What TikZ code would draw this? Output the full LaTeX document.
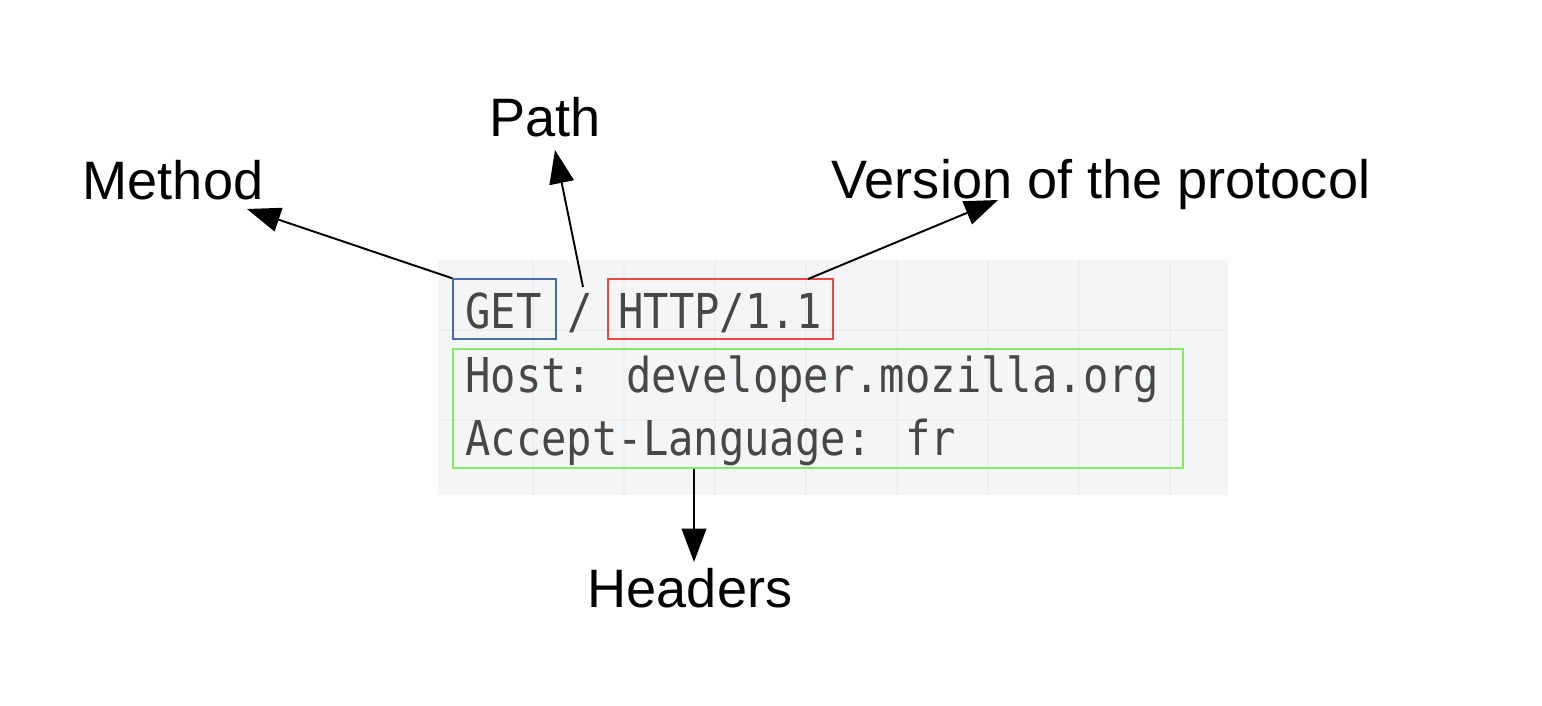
\documentclass[tikz,border=0pt]{standalone}
\usepackage{fontspec}
\setmainfont{Liberation Sans}
\newfontfamily\codefont{DejaVu Sans Mono}
\usetikzlibrary{arrows.meta}
\definecolor{codegray}{HTML}{474747}
\definecolor{bggray}{HTML}{F4F5F6}
\definecolor{gridgray}{HTML}{ECEEEF}
\definecolor{getblue}{HTML}{4A6BAA}
\definecolor{httpred}{HTML}{E9483F}
\definecolor{hdrgreen}{HTML}{86EC64}
\newcommand{\codeline}[1]{\scalebox{1}[1.14]{#1}}

\begin{document}
\begin{tikzpicture}[x=0.02cm, y=-0.02cm,
label/.style = {font=\fontsize{30.8}{36}\selectfont, anchor=base},
code/.style = {font=\codefont\fontsize{24}{29}\selectfont, text=codegray, anchor=base west, inner sep=0pt},
box/.style = {rectangle, line width=0.8pt, inner sep=0pt},
arr/.style = {-{Triangle[length=19pt, width=14pt]}, line width=1.1pt}]
\useasboundingbox (0,0) rectangle (1542,706);

% request background
\fill [bggray] (438,260) rectangle (1228,495);
\foreach \x in {533,624,...,1170}
  \draw [gridgray, line width=0.6pt] (\x,260) -- (\x,495);
\foreach \y in {330,420}
  \draw [gridgray, line width=0.6pt] (438,\y) -- (1228,\y);

\node [box, draw=getblue, minimum width=2.06cm, minimum height=1.2cm] at (504.5,309) (getbox) {};
\node [box, draw=httpred, minimum width=4.5cm, minimum height=1.2cm] at (720.5,309) (httpbox) {};
\node [box, draw=hdrgreen, minimum width=14.6cm, minimum height=2.38cm] at (818,408.5) (hdrbox) {};

\node [code] at (465,328) (get) {\codeline{GET}};
\node [code] at (567,328) (slash) {\codeline{/}};
\node [code] at (618,328) (http) {\codeline{HTTP/1.1}};
\node [code] at (465,392) (host) {\codeline{Host: developer.mozilla.org}};
\node [code] at (465,455) (accept) {\codeline{Accept-Language: fr}};

\node [label] at (173,199) (method) {Method};
\node [label] at (545,136) (path) {Path};
\node [label] at (1101,198) (version) {Version of the protocol};
\node [label] at (690,607) (headers) {Headers};

\coordinate (mtip) at (247,209);
\coordinate (pfoot) at (583,287);
\coordinate (ptip) at (555,150);
\coordinate (vfoot) at (808,279);
\coordinate (vtip) at (998,200);
\coordinate (htip) at (694,562);

\draw [arr] (getbox.north west) -- (mtip);
\draw [arr] (pfoot) -- (ptip);
\draw [arr] (vfoot) -- (vtip);
\draw [arr] (hdrbox.south -| htip) -- (htip);

\end{tikzpicture}
\end{document}
